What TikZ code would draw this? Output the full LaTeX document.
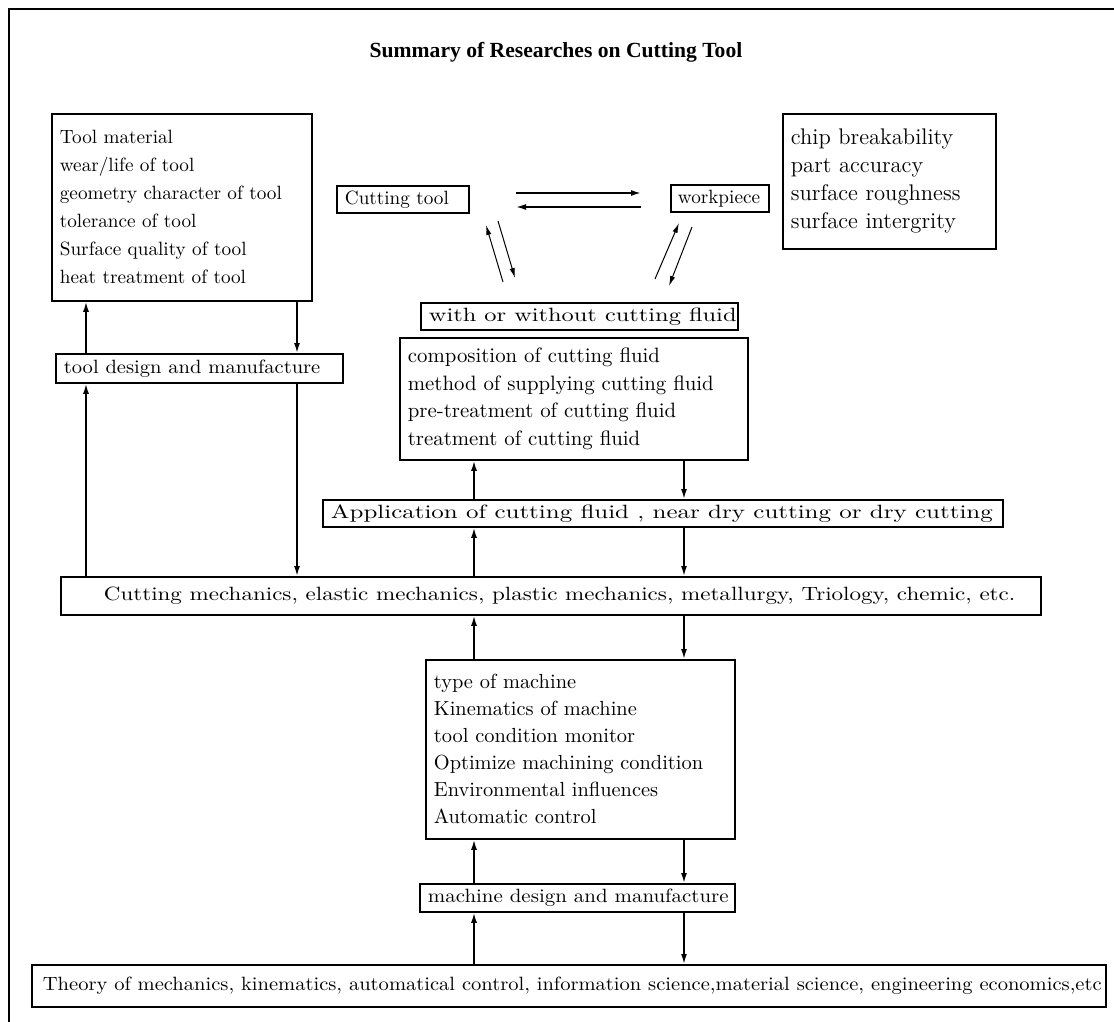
\documentclass[tikz,border=0pt]{standalone}
\usepackage{fontspec}
\usepackage{graphicx}
\usepackage{tikz}
\usetikzlibrary{arrows.meta}
\newfontfamily\titlefont{Liberation Serif}
\newcommand{\hwide}[2]{\scalebox{#1}[1]{#2}}

\begin{document}
\begin{tikzpicture}[x=0.5pt,y=-0.5pt,
  box/.style={draw,line width=0.9pt,anchor=north west,align=left,inner xsep=4pt,inner ysep=0pt,font=\fontsize{9.6}{14}\selectfont},
  flow/.style={line width=0.8pt,-{Latex[length=5pt,width=3pt]}},
  slant/.style={line width=0.5pt,-{Latex[length=5pt,width=2.6pt]}}]
\useasboundingbox (0,0) rectangle (1114,1022);
\draw [line width=1pt] (9,1022) -- (9,9) -- (1114,9);
\node [font=\titlefont\bfseries\fontsize{10.8}{12}\selectfont] (title) at (556,52) {Summary of Researches on Cutting Tool};

\node [box,text width=122pt,minimum height=93.5pt] (tool) at (51,113) {Tool material\\ wear/life of tool\\ geometry character of tool\\ tolerance of tool\\ Surface quality of tool\\ heat treatment of tool};
\node [box,text width=58pt,minimum height=13.5pt] (ctool) at (336,185) {Cutting tool};
\node [box,text width=42pt,minimum height=13.5pt,inner xsep=3.5pt] (wpiece) at (670,184) {workpiece};
\node [box,text width=98.5pt,minimum height=67.5pt,font=\fontsize{11.3}{14}\selectfont] (quality) at (782,113) {chip breakability\\ part accuracy\\ surface roughness\\ surface intergrity};
\node [box,text width=150.5pt,minimum height=13.5pt] (wet) at (420,302) {\hwide{1.27}{with or without cutting fluid}};
\node [box,text width=166pt,minimum height=61pt,font=\fontsize{10.4}{13.8}\selectfont] (fluid) at (399,337) {composition of cutting fluid\\ method of supplying cutting fluid\\ pre-treatment of cutting fluid\\ treatment of cutting fluid};
\node [box,text width=332pt,minimum height=13.5pt] (app) at (322,499) {\hwide{1.3}{Application of cutting fluid , near dry cutting or dry cutting}};
\node [box,text width=135.5pt,minimum height=14.5pt] (tdesign) at (55,353) {\hwide{1.07}{tool design and manufacture}};
\node [box,text width=482pt,minimum height=19pt] (mech) at (60,576) {\hspace*{17.5pt}\hwide{1.2}{Cutting mechanics, elastic mechanics, plastic mechanics, metallurgy, Triology, chemic, etc.}};
\node [box,text width=146.5pt,minimum height=89.5pt,font=\fontsize{10.2}{13.5}\selectfont] (machine) at (425,659) {type of machine\\ Kinematics of machine\\ tool condition monitor\\ Optimize machining condition\\ Environmental influences\\ Automatic control};
\node [box,text width=149.5pt,minimum height=14pt] (mdesign) at (419,883) {\hwide{1.09}{machine design and manufacture}};
\node [box,text width=526pt,minimum height=21pt,inner xsep=5.5pt] (theory) at (31,964) {\hwide{1.07}{Theory of mechanics, kinematics, automatical control, information science,material science, engineering economics,etc}};

\coordinate (l1) at (86,0);
\coordinate (l2) at (297,0);
\coordinate (m1) at (474,0);
\coordinate (m2) at (684,0);
\coordinate (h1) at (516,193);
\coordinate (h2) at (641,193);
\coordinate (h3) at (641,207);
\coordinate (h4) at (516,207);
\coordinate (a1) at (503,282);
\coordinate (a2) at (486,225);
\coordinate (b1) at (498,221);
\coordinate (b2) at (515,278);
\coordinate (c1) at (655,279);
\coordinate (c2) at (679,223);
\coordinate (e1) at (692,227);
\coordinate (e2) at (669,286);

\draw [flow] (h1) -- (h2);
\draw [flow] (h3) -- (h4);
\draw [slant] (a1) -- (a2);
\draw [slant] (b1) -- (b2);
\draw [slant] (c1) -- (c2);
\draw [slant] (e1) -- (e2);

\draw [flow] (tdesign.north -| l1) -- (tool.south -| l1);
\draw [flow] (mech.north -| l1) -- (tdesign.south -| l1);
\draw [flow] (tool.south -| l2) -- (tdesign.north -| l2);
\draw [flow] (tdesign.south -| l2) -- (mech.north -| l2);
\draw [flow] (app.north -| m1) -- (fluid.south -| m1);
\draw [flow] (mech.north -| m1) -- (app.south -| m1);
\draw [flow] (fluid.south -| m2) -- (app.north -| m2);
\draw [flow] (app.south -| m2) -- (mech.north -| m2);
\draw [flow] (machine.north -| m1) -- (mech.south -| m1);
\draw [flow] (mdesign.north -| m1) -- (machine.south -| m1);
\draw [flow] (theory.north -| m1) -- (mdesign.south -| m1);
\draw [flow] (mech.south -| m2) -- (machine.north -| m2);
\draw [flow] (machine.south -| m2) -- (mdesign.north -| m2);
\draw [flow] (mdesign.south -| m2) -- (theory.north -| m2);
\end{tikzpicture}
\end{document}
